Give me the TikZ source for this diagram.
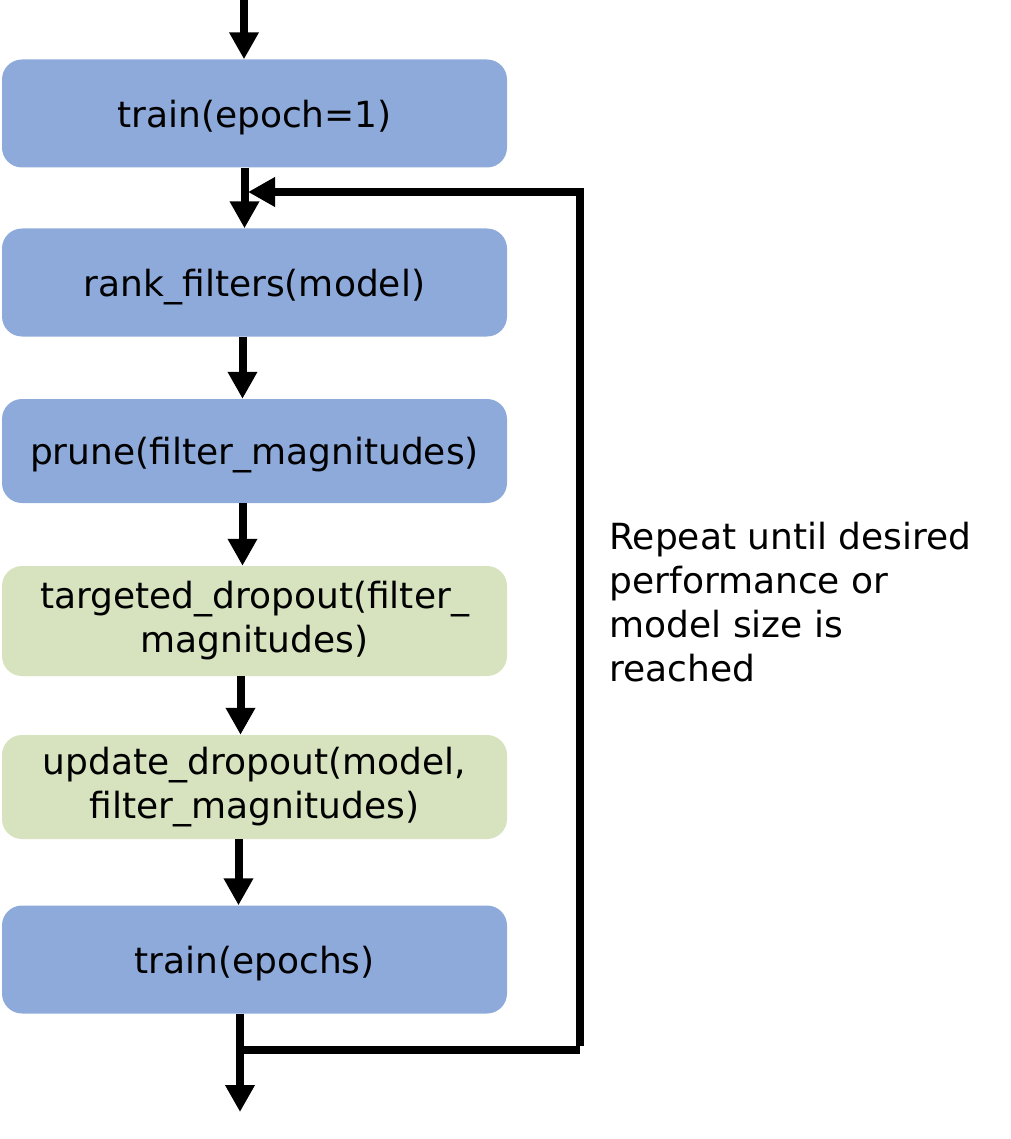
\documentclass[tikz,border=0pt]{standalone}
\usepackage{fontspec}
\setmainfont{DejaVu Sans}
\usetikzlibrary{arrows.meta}
\definecolor{stepblue}{RGB}{142,170,219}
\definecolor{stepgreen}{RGB}{214,227,190}
\begin{document}
\begin{tikzpicture}[x=1pt,y=-1pt,
    stepbox/.style={rounded corners=20pt, minimum width=505pt, minimum height=108pt,
        inner sep=0pt, align=center, font=\fontsize{36}{44}\selectfont},
    bluestep/.style={stepbox, fill=stepblue, text depth=0pt},
    greenstep/.style={stepbox, fill=stepgreen},
    flow/.style={line width=8pt, -{Triangle[length=27pt,width=28pt]}},
    plain/.style={line width=8pt}]
    \useasboundingbox (0,0) rectangle (1010,1139);

    % steps of the pruning loop
    \node[bluestep] (train1) at (254.5,113.5) {train(epoch=1)};
    \node[bluestep] (rank) at (254.5,282.5) {rank\_filters(model)};
    \node[bluestep, minimum height=104pt] (prune) at (254.5,451) {prune(filter\_magnitudes)};
    \node[greenstep, minimum height=110pt] (tdrop) at (254.5,621) {targeted\_dropout(filter\_\\magnitudes)};
    \node[greenstep, minimum height=104pt] (udrop) at (254.5,787) {update\_dropout(model,\\filter\_magnitudes)};
    \node[bluestep] (trainn) at (254.5,959.5) {train(epochs)};

    % straight connectors
    \coordinate (in) at (244,0);
    \coordinate (out) at (240,1112);
    \draw[flow] (in) -- (in |- train1.north);
    \foreach \a/\b/\dx in {train1/rank/-10, rank/prune/-12, prune/tdrop/-12, tdrop/udrop/-14, udrop/trainn/-16} {
        \draw[flow] ([xshift=\dx pt]\a.south) -- ([xshift=\dx pt]\b.north);
    }
    \draw[flow] (out |- trainn.south) -- (out);

    % feedback loop
    \coordinate (loopbot) at (240,1050);
    \coordinate (loopside) at (580,1050);
    \coordinate (looptop) at (248,192);
    \draw[plain] (loopbot) -- (loopside);
    \draw[flow] ([yshift=4pt]loopside) -- (loopside |- looptop) -- (looptop);
    \node[anchor=west, align=left, font=\fontsize{36}{44}\selectfont] (repeat) at (606,602)
        {Repeat until desired\\performance or\\model size is\\reached};
\end{tikzpicture}
\end{document}
